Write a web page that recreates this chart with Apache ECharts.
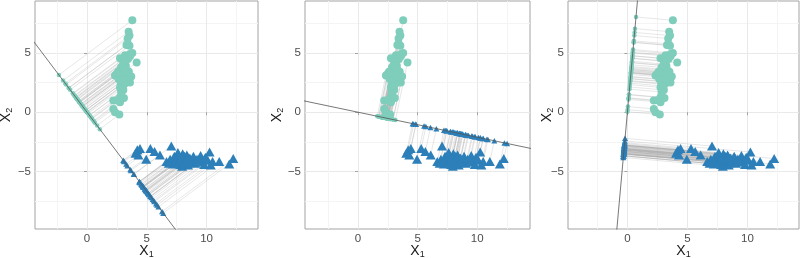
<!DOCTYPE html>
<html>
<head>
<meta charset="utf-8">
<script src="https://cdn.jsdelivr.net/npm/echarts@6/dist/echarts.min.js"></script>
<style>
html, body {margin: 0; padding: 0; background: #fff;}
#chart {width: 800px; height: 258px;}
</style>
</head>
<body>
<div id="chart"></div>
<script type="text/javascript">

// class 1 (circles)
var green_x = [3.79, 3.48, 3.55, 3.40, 3.30, 3.55, 3.42, 3.79, 3.18, 2.76,
               4.15, 3.43, 3.60, 3.04, 2.84, 3.25, 2.48, 2.34, 3.04, 3.26,
               3.45, 2.65, 3.04, 3.59, 2.82, 2.76, 3.04, 2.76, 3.09, 2.20,
               2.76, 2.20, 2.34, 2.70, 3.10, 2.95, 3.30, 3.15, 2.60, 3.50,
               2.90, 3.20, 3.70, 2.85, 3.35, 2.70, 3.00, 2.50, 3.60, 3.00];
var green_y = [7.74, 6.78, 6.45, 6.20, 5.65, 5.60, 5.75, 4.98, 4.80, 4.55,
               4.19, 4.47, 4.70, 4.05, 3.77, 3.90, 3.21, 3.10, 3.35, 3.21,
               3.07, 2.79, 2.93, 2.51, 2.37, 2.09, 1.87, 1.26, 1.20, 0.98,
               0.84, 0.28, 0.00, -0.20, 3.60, 3.10, 2.70, 2.40, 3.40, 3.40,
               2.60, 4.30, 3.00, 1.70, 3.50, 3.30, 3.95, 1.00, 4.90, 2.20];

// class 2 (triangles)
var blue_x = [4.21, 4.43, 4.05, 4.30, 4.95, 5.30, 5.65, 6.10, 7.05, 6.65,
              6.95, 7.30, 7.50, 7.65, 7.80, 7.90, 8.00, 8.10, 8.20, 8.35,
              8.45, 8.60, 8.75, 8.90, 9.05, 9.20, 9.50, 9.65, 9.80, 10.25,
              10.35, 10.10, 11.06, 11.90, 12.23, 7.40, 7.70, 8.05, 8.30, 7.20,
              8.15, 7.85, 8.55, 9.35, 6.85, 7.95, 8.40, 10.50, 9.90, 7.60];
var blue_y = [-3.16, -3.05, -3.45, -3.60, -3.95, -3.05, -3.30, -3.60, -2.85, -4.15,
              -3.95, -3.70, -4.20, -3.55, -4.40, -3.80, -3.50, -4.30, -3.95, -3.60,
              -4.45, -3.85, -4.10, -3.70, -4.30, -3.95, -3.65, -4.20, -4.40, -3.35,
              -4.45, -4.05, -4.15, -4.35, -3.90, -4.05, -4.10, -4.15, -4.05, -4.35,
              -3.70, -3.85, -4.25, -4.05, -4.30, -4.55, -3.75, -4.15, -3.80, -3.40];

// unit direction of the projection line in each panel
var directions = [[0.6, -0.8], [0.979, -0.206], [0.089, 0.996]];

var x_limits = [[-4.35, 14.3], [-4.45, 14.43], [-4.95, 14.3]];
var y_limits = [-9.83, 9.36];
var major_breaks = [-5, 0, 5, 10];
var grid_breaks = [-7.5, -5, -2.5, 0, 2.5, 5, 7.5, 10, 12.5];

var GREEN = '#7fcdbb', BLUE = '#2c7fb8';
var FONT = 'Liberation Sans';

function project(x, y, d){
    var t = x * d[0] + y * d[1];
    return [t * d[0], t * d[1]];
}

function inside(arr, lim){
    return arr.filter(function(v){ return v > lim[0] && v < lim[1]; });
}

function minus(v){
    return String(v).replace('-', '\u2212');
}

var myChart = echarts.init(document.getElementById('chart'));

var panel_left = [35, 305, 568];
var panel_width = [223, 225, 231];
var ygap = [21, 20, 13];

var grids = [], xAxes = [], yAxes = [], series = [];

for (var p = 0; p < 3; p++){
    var d = directions[p];
    grids.push({
        left: panel_left[p], top: 1, width: panel_width[p], height: 228,
        outerBoundsMode: 'none', containLabel: false,
        show: true, borderColor: '#a3a3a3', borderWidth: 1, backgroundColor: '#fff'
    });

    var xlim = x_limits[p];
    var label_style = {color: '#4d4d4d', fontSize: 11.5, fontFamily: FONT, formatter: minus};
    var title_style = {
        color: '#1a1a1a',
        rich: {
            a: {fontSize: 14, fontFamily: FONT, color: '#1a1a1a', lineHeight: 16},
            b: {fontSize: 9, fontFamily: FONT, color: '#1a1a1a', lineHeight: 9, verticalAlign: 'bottom'}
        }
    };

    // axis with ticks, labels and titles
    xAxes.push({
        gridIndex: p, type: 'value', min: xlim[0], max: xlim[1], position: 'bottom',
        name: '{a|X}{b|1}', nameLocation: 'middle', nameGap: 14, nameMoveOverlap: false,
        nameTextStyle: title_style,
        axisLine: {show: false},
        axisTick: {show: true, length: 3, customValues: inside(major_breaks, xlim), lineStyle: {color: '#a3a3a3'}},
        axisLabel: Object.assign({margin: 4, customValues: inside(major_breaks, xlim)}, label_style),
        splitLine: {show: false}
    });
    // axis used only for the major / minor grid lines
    xAxes.push({
        gridIndex: p, type: 'value', min: xlim[0], max: xlim[1], position: 'bottom',
        axisLine: {show: false}, axisLabel: {show: false},
        axisTick: {show: false, customValues: inside(grid_breaks, xlim)},
        splitLine: {show: true, lineStyle: {color: ['#f4f4f4', '#e9e9e9'], width: 1}}
    });
    yAxes.push({
        gridIndex: p, type: 'value', min: y_limits[0], max: y_limits[1], position: 'left',
        name: '{a|X}{b|2}', nameLocation: 'middle', nameRotate: 90, nameGap: ygap[p],
        nameMoveOverlap: false, nameTextStyle: title_style,
        axisLine: {show: false},
        axisTick: {show: true, length: 3, customValues: inside(major_breaks, y_limits), lineStyle: {color: '#a3a3a3'}},
        axisLabel: Object.assign({margin: 4, customValues: inside(major_breaks, y_limits)}, label_style),
        splitLine: {show: false}
    });
    yAxes.push({
        gridIndex: p, type: 'value', min: y_limits[0], max: y_limits[1], position: 'left',
        axisLine: {show: false}, axisLabel: {show: false},
        axisTick: {show: false, customValues: inside(grid_breaks, y_limits)},
        splitLine: {show: true, lineStyle: {color: ['#f4f4f4', '#e9e9e9'], width: 1}}
    });

    var segs = [], gproj = [], bproj = [], gpts = [], bpts = [];
    for (var i = 0; i < green_x.length; i++){
        var q = project(green_x[i], green_y[i], d);
        segs.push({coords: [[green_x[i], green_y[i]], q]});
        gproj.push(q);
        gpts.push([green_x[i], green_y[i]]);
    }
    for (var j = 0; j < blue_x.length; j++){
        var r = project(blue_x[j], blue_y[j], d);
        segs.push({coords: [[blue_x[j], blue_y[j]], r]});
        bproj.push(r);
        bpts.push([blue_x[j], blue_y[j]]);
    }

    var ax = 2 * p;
    series.push({
        type: 'lines', coordinateSystem: 'cartesian2d', xAxisIndex: ax, yAxisIndex: ax,
        silent: true, data: segs,
        lineStyle: {color: '#9a9a9a', width: 0.6, opacity: 0.4}
    });
    series.push({
        type: 'line', xAxisIndex: ax, yAxisIndex: ax, silent: true, symbol: 'none', clip: true,
        data: [[-40 * d[0], -40 * d[1]], [40 * d[0], 40 * d[1]]],
        lineStyle: {color: '#555', width: 0.8}
    });
    series.push({
        type: 'scatter', xAxisIndex: ax, yAxisIndex: ax, silent: true,
        symbol: 'circle', symbolSize: 4.5, data: gproj, itemStyle: {color: GREEN, opacity: 1}
    });
    series.push({
        type: 'scatter', xAxisIndex: ax, yAxisIndex: ax, silent: true,
        symbol: 'triangle', symbolSize: [6, 5.5], data: bproj, itemStyle: {color: BLUE, opacity: 1}
    });
    series.push({
        type: 'scatter', xAxisIndex: ax, yAxisIndex: ax, silent: true,
        symbol: 'circle', symbolSize: 8, data: gpts, itemStyle: {color: GREEN, opacity: 1}
    });
    series.push({
        type: 'scatter', xAxisIndex: ax, yAxisIndex: ax, silent: true,
        symbol: 'triangle', symbolSize: [10, 9], data: bpts, itemStyle: {color: BLUE, opacity: 1}
    });
}

option = {
    animation: false,
    backgroundColor: '#fff',
    grid: grids,
    xAxis: xAxes,
    yAxis: yAxes,
    series: series
};
myChart.setOption(option);

</script>
</body>
</html>
